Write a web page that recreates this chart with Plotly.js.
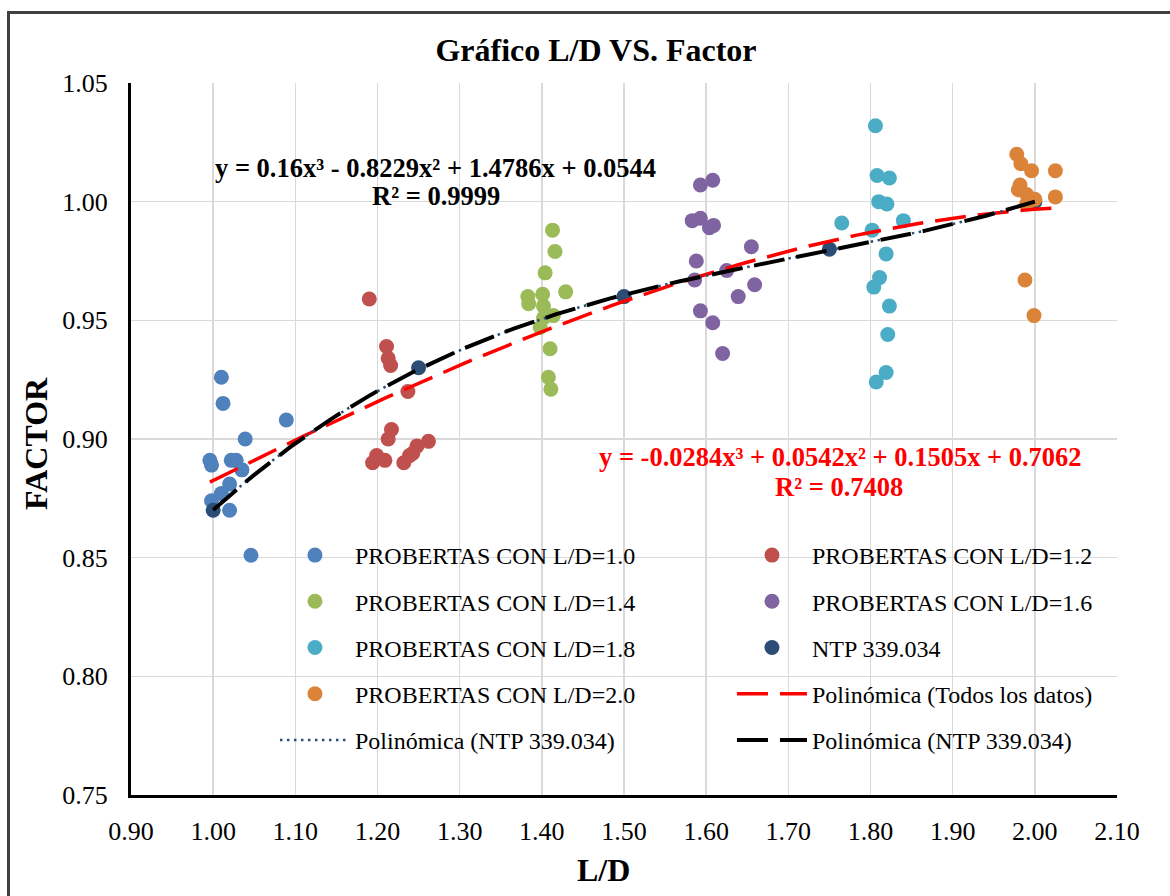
<!DOCTYPE html>
<html>
<head>
<meta charset="utf-8">
<script src="https://cdn.plot.ly/plotly-3.0.1.min.js"></script>
<style>
html,body{margin:0;padding:0;overflow:hidden;background:#fff;}
#chart{position:absolute;left:0;top:0;width:1170px;height:896px;}
#frame{position:absolute;left:7px;top:11px;width:1300px;height:1000px;border-left:3px solid #404040;border-top:3px solid #404040;pointer-events:none;}
</style>
</head>
<body>
<div id="chart"></div>
<div id="frame"></div>
<script>
// ---- data ----
const x10 = [1.010, 1.012, 1.089, 1.039, 0.996, 0.998, 1.022, 1.028, 1.035, 1.020, 1.010, 0.998, 1.020, 1.046];
const y10 = [0.926, 0.915, 0.908, 0.900, 0.891, 0.889, 0.891, 0.891, 0.887, 0.881, 0.877, 0.874, 0.870, 0.851];

const x12 = [1.190, 1.211, 1.213, 1.216, 1.237, 1.217, 1.213, 1.262, 1.248, 1.243, 1.199, 1.209, 1.194, 1.232, 1.239];
const y12 = [0.959, 0.939, 0.934, 0.931, 0.920, 0.904, 0.900, 0.899, 0.897, 0.894, 0.893, 0.891, 0.890, 0.890, 0.893];

const x14 = [1.413, 1.416, 1.404, 1.383, 1.401, 1.429, 1.384, 1.402, 1.414, 1.402, 1.398, 1.410, 1.408, 1.411];
const y14 = [0.988, 0.979, 0.970, 0.960, 0.961, 0.962, 0.957, 0.956, 0.952, 0.951, 0.947, 0.938, 0.926, 0.921];

const x16 = [1.593, 1.608, 1.583, 1.593, 1.604, 1.609, 1.655, 1.588, 1.625, 1.586, 1.659, 1.639, 1.593, 1.608, 1.620];
const y16 = [1.007, 1.009, 0.992, 0.993, 0.989, 0.990, 0.981, 0.975, 0.971, 0.967, 0.965, 0.960, 0.954, 0.949, 0.936];

const x18 = [1.806, 1.808, 1.823, 1.810, 1.820, 1.765, 1.840, 1.802, 1.819, 1.811, 1.804, 1.823, 1.821, 1.819, 1.807];
const y18 = [1.032, 1.011, 1.010, 1.000, 0.999, 0.991, 0.992, 0.988, 0.978, 0.968, 0.964, 0.956, 0.944, 0.928, 0.924];

const x20 = [1.978, 1.983, 1.996, 2.025, 1.982, 1.980, 1.990, 2.000, 1.990, 2.025, 1.988, 1.999];
const y20 = [1.020, 1.016, 1.013, 1.013, 1.007, 1.005, 1.003, 1.001, 0.999, 1.002, 0.967, 0.952];

const ntpX = [1.00, 1.25, 1.50, 1.75, 2.00];
const ntpY = [0.87, 0.93, 0.96, 0.98, 1.00];

// trendline coefficients shown on the chart (a3, a2, a1, a0)
const coefAll = [-0.0284, 0.0542, 0.1505, 0.7062];
const coefNtp = [0.16, -0.8229, 1.4786, 0.0544];

const seriesNames = [
  'PROBERTAS CON L/D=1.0', 'PROBERTAS CON L/D=1.2', 'PROBERTAS CON L/D=1.4',
  'PROBERTAS CON L/D=1.6', 'PROBERTAS CON L/D=1.8', 'NTP 339.034', 'PROBERTAS CON L/D=2.0'
];
const trendNames = ['Polinómica (Todos los datos)', 'Polinómica (NTP 339.034)', 'Polinómica (NTP 339.034)'];
const eqNtp = ['y = 0.16x³ - 0.8229x² + 1.4786x + 0.0544', 'R² = 0.9999'];
const eqAll = ['y = -0.0284x³ + 0.0542x² + 0.1505x + 0.7062', 'R² = 0.7408'];

// ---- build ----
const colors = ['#4F81BD', '#C0504D', '#9BBB59', '#8064A2', '#4BACC6', '#2C4D75', '#DB8439'];
const legendOf = ['legend', 'legend2', 'legend', 'legend2', 'legend', 'legend2', 'legend'];
const xs = [x10, x12, x14, x16, x18, ntpX, x20];
const ys = [y10, y12, y14, y16, y18, ntpY, y20];

function poly(c, x) { return c[0]*x*x*x + c[1]*x*x + c[2]*x + c[3]; }
function curve(c, x0, x1) {
  const X = [], Y = [];
  const n = 120;
  for (let i = 0; i <= n; i++) { const x = x0 + (x1 - x0) * i / n; X.push(x); Y.push(poly(c, x)); }
  return {X, Y};
}

const traces = [];
for (let i = 0; i < xs.length; i++) {
  traces.push({
    type: 'scatter', mode: 'markers', x: xs[i], y: ys[i], name: seriesNames[i],
    marker: {color: colors[i], size: 15, line: {width: 0}},
    legend: legendOf[i], legendgroup: 'g' + i, hoverinfo: 'x+y'
  });
}
const allX = [].concat(x10, x12, x14, x16, x18, ntpX, x20);
const cAll = curve(coefAll, Math.min(...allX), Math.max(...allX));
const cNtp = curve(coefNtp, Math.min(...ntpX), Math.max(...ntpX));
traces.push({type: 'scatter', mode: 'lines', x: cAll.X, y: cAll.Y, name: trendNames[0],
  line: {color: '#FF0000', width: 3.5, dash: '31px,12px'}, legend: 'legend2', legendgroup: 't0', hoverinfo: 'skip'});
traces.push({type: 'scatter', mode: 'lines', x: cNtp.X, y: cNtp.Y, name: trendNames[1],
  line: {color: '#2C4D75', width: 2.5, dash: '2.5px,4.5px'}, legend: 'legend', legendgroup: 't1', hoverinfo: 'skip'});
traces.push({type: 'scatter', mode: 'lines', x: cNtp.X, y: cNtp.Y, name: trendNames[2],
  line: {color: '#000000', width: 4, dash: '31px,12px'}, legend: 'legend2', legendgroup: 't2', hoverinfo: 'skip'});

const serif = 'Liberation Serif';
const legendCommon = {
  bgcolor: 'rgba(0,0,0,0)', borderwidth: 0, font: {family: serif, size: 24, color: '#000'},
  itemwidth: 70, tracegroupgap: 12, yanchor: 'top', xanchor: 'left', y: 0.368, itemclick: false
};

function eqAnn(txt, xpx, ypx, color) {
  return {text: '<b>' + txt + '</b>', xref: 'paper', yref: 'paper',
    x: (xpx - 131) / 986, y: (795 - ypx) / 712, showarrow: false,
    xanchor: 'center', yanchor: 'middle', font: {family: serif, size: 26.5, color: color}};
}

const layout = {
  width: 1170, height: 896,
  margin: {l: 131, r: 53, t: 83, b: 101},
  paper_bgcolor: '#fff', plot_bgcolor: '#fff',
  font: {family: serif, color: '#000'},
  title: {text: '<b>Gráfico L/D VS. Factor</b>', font: {family: serif, size: 32, color: '#000'},
          xref: 'paper', x: 0.4716, xanchor: 'center', yref: 'container', y: 1 - 50/896, yanchor: 'middle'},
  xaxis: {
    range: [0.9, 2.1], dtick: 0.1, tick0: 0.9, tickformat: '.2f',
    showgrid: true, gridcolor: '#D9D9D9', gridwidth: 1.5,
    showline: true, linecolor: '#000', linewidth: 3, zeroline: false,
    ticks: '', ticklabelstandoff: 11,
    tickfont: {family: serif, size: 26, color: '#000'}
  },
  yaxis: {
    range: [0.75, 1.05], dtick: 0.05, tick0: 0.75, tickformat: '.2f',
    showgrid: true, gridcolor: '#D9D9D9', gridwidth: 1.5,
    showline: true, linecolor: '#000', linewidth: 3, zeroline: false,
    ticks: '', ticklabelstandoff: 15,
    tickfont: {family: serif, size: 26, color: '#000'}
  },
  legend: Object.assign({}, legendCommon, {x: 0.146}),
  legend2: Object.assign({}, legendCommon, {x: 0.6095}),
  annotations: [
    eqAnn(eqNtp[0], 435, 168, '#000'),
    eqAnn(eqNtp[1], 436, 196, '#000'),
    eqAnn(eqAll[0], 840, 457, '#FF0000'),
    eqAnn(eqAll[1], 839, 487, '#FF0000'),
    {text: '<b>L/D</b>', xref: 'paper', yref: 'paper', x: (603 - 131) / 986, y: (795 - 870) / 712,
     showarrow: false, xanchor: 'center', yanchor: 'middle', font: {family: serif, size: 32, color: '#000'}},
    {text: '<b>FACTOR</b>', xref: 'paper', yref: 'paper', x: (36 - 131) / 986, y: (795 - 444) / 712,
     textangle: -90, showarrow: false, xanchor: 'center', yanchor: 'middle', font: {family: serif, size: 32, color: '#000'}}
  ],
  showlegend: true
};

Plotly.newPlot('chart', traces, layout, {displayModeBar: false, staticPlot: true});
</script>
</body>
</html>
